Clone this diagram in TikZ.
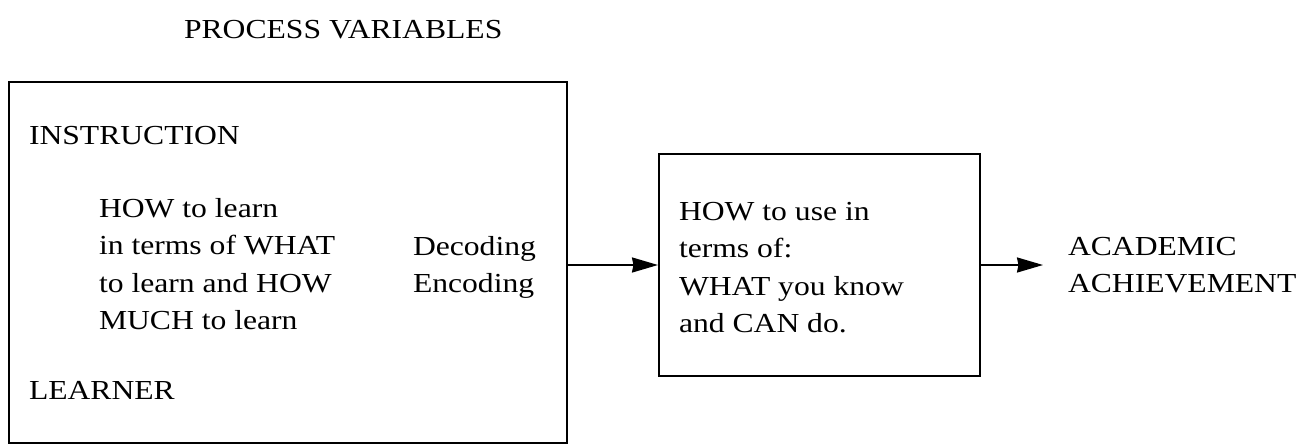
\documentclass[tikz,border=0pt]{standalone}
\usepackage{fontspec}
\setmainfont{Liberation Serif}[FakeStretch=1.15]
\usetikzlibrary{arrows.meta}
\begin{document}
\begin{tikzpicture}[x=1pt,y=-1pt, line width=2pt,
  lbl/.style={inner sep=0pt, font=\fontsize{27.5}{37.5}\selectfont, align=left},
  boxshape/.style={draw, inner sep=0pt, anchor=north west},
  arr/.style={-{Stealth[length=26pt,width=15pt,inset=1.5pt]}}]
\useasboundingbox (0,0) rectangle (1311,444);
\node[lbl, anchor=base west] (title) at (183,38) {PROCESS VARIABLES};
\node[boxshape, minimum width=558pt, minimum height=361pt] (proc) at (8,81) {};
\node[lbl, anchor=base west] (instr) at (28,144) {INSTRUCTION};
\node[lbl, anchor=north west] (how) at (98,197) {HOW to learn\\in terms of WHAT\\to learn and HOW\\MUCH to learn};
\node[lbl, anchor=north west] (code) at (412,235) {Decoding\\Encoding};
\node[lbl, anchor=base west] (learner) at (28,399) {LEARNER};
\node[boxshape, minimum width=321pt, minimum height=222pt] (use) at (658,153) {};
\node[lbl, anchor=north west] (usetext) at (678,201) {HOW to use in\\terms of:\\WHAT you know\\and CAN do.};
\node[lbl, anchor=west] (ach) at (1067,265) {ACADEMIC\\ACHIEVEMENT};
\draw[arr] (use.west -| proc.east) -- (use.west);
\draw[arr, shorten >=24pt] (use.east |- ach.west) -- (ach.west);
\end{tikzpicture}
\end{document}
